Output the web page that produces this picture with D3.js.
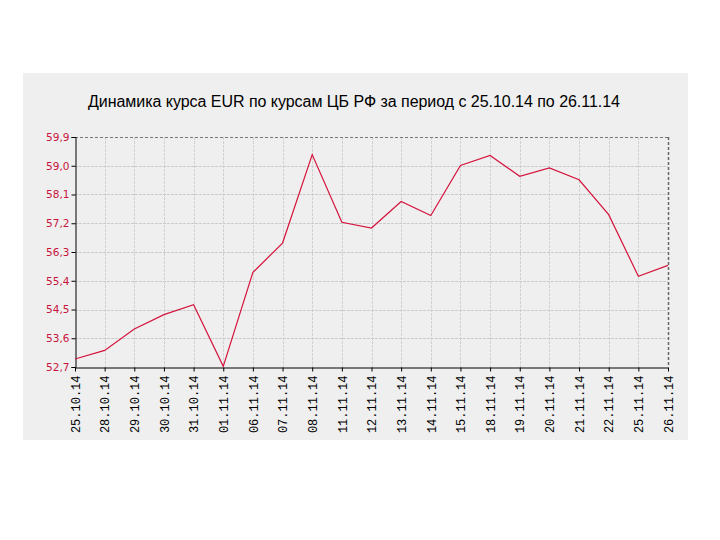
<!DOCTYPE html>
<html><head><meta charset="utf-8">
<script src="https://cdn.jsdelivr.net/npm/d3@7"></script>
<style>body{margin:0;background:#fff}</style>
</head><body>
<svg id="c" width="720" height="540"></svg>
<script>
const title = "Динамика курса EUR по курсам ЦБ РФ за период с 25.10.14 по 26.11.14";
const dates = ["25.10.14","28.10.14","29.10.14","30.10.14","31.10.14","01.11.14","06.11.14","07.11.14","08.11.14","11.11.14","12.11.14","13.11.14","14.11.14","15.11.14","18.11.14","19.11.14","20.11.14","21.11.14","22.11.14","25.11.14","26.11.14"];
const rates = [52.95,53.22,53.89,54.34,54.65,52.72,55.66,56.58,59.35,57.23,57.05,57.88,57.44,59.01,59.32,58.67,58.93,58.56,57.47,55.54,55.88];
const yTicks = [52.7,53.6,54.5,55.4,56.3,57.2,58.1,59.0,59.9];

const svg = d3.select("#c");
const L=75,R=668,T=137,B=367;
svg.append("rect").attr("x",23).attr("y",73).attr("width",665).attr("height",367).attr("fill","#efefef");
svg.append("text").attr("x",354).attr("y",107).attr("text-anchor","middle")
  .attr("font-family","Liberation Sans, Arial, sans-serif").attr("font-size",16).attr("textLength",532).attr("fill","#000").text(title);

const x = d3.scalePoint().domain(dates).range([L,R]);
const y = d3.scaleLinear().domain([52.7,59.9]).range([B,T]);

const g = svg.append("g");
g.selectAll(".vg").data(dates.slice(1,-1)).join("line")
  .attr("x1",d=>Math.round(x(d))+0.5).attr("x2",d=>Math.round(x(d))+0.5).attr("y1",T).attr("y2",B)
  .attr("stroke","#d2d2d2").attr("stroke-dasharray","3,1");
g.selectAll(".hg").data(yTicks.slice(1,-1)).join("line")
  .attr("x1",L).attr("x2",R).attr("y1",d=>Math.round(y(d))+0.5).attr("y2",d=>Math.round(y(d))+0.5)
  .attr("stroke","#cbcbcb").attr("stroke-dasharray","3,1");
g.append("line").attr("x1",L).attr("x2",R).attr("y1",T+0.5).attr("y2",T+0.5).attr("stroke","#777").attr("stroke-dasharray","3,2");
g.append("line").attr("x1",R+0.5).attr("x2",R+0.5).attr("y1",T).attr("y2",B).attr("stroke","#666").attr("stroke-width",1.5).attr("stroke-dasharray","3,2");

const ya = d3.axisLeft(y).tickValues(yTicks).tickSize(4).tickFormat(d=>d.toFixed(1).replace(".",","));
const yg = svg.append("g").attr("transform",`translate(${L+0.5},0)`).call(ya);
yg.select(".domain").attr("stroke","#000");
yg.selectAll(".tick line").attr("stroke","#000");
yg.selectAll("text").attr("fill","#c8143c").attr("font-family","DejaVu Sans, Verdana, sans-serif").attr("font-size",10.5).attr("x",-6);

const xa = d3.axisBottom(x).tickSize(4).tickSizeOuter(0);
const xg = svg.append("g").attr("transform",`translate(0,${B+0.5})`).call(xa);
xg.select(".domain").attr("stroke","#000");
xg.selectAll(".tick line").attr("stroke","#000");
xg.selectAll("text").attr("fill","#000").attr("font-family","Liberation Mono, Courier New, monospace").attr("font-size",12)
  .attr("transform","rotate(-90)").attr("text-anchor","end").attr("x",-8).attr("y",0).attr("dy","0.35em");

svg.append("path").datum(rates).attr("fill","none").attr("stroke","#d4143c").attr("stroke-width",1.2)
  .attr("d", d3.line().x((d,i)=>x(dates[i])).y(d=>y(d)));
</script>
</body></html>
